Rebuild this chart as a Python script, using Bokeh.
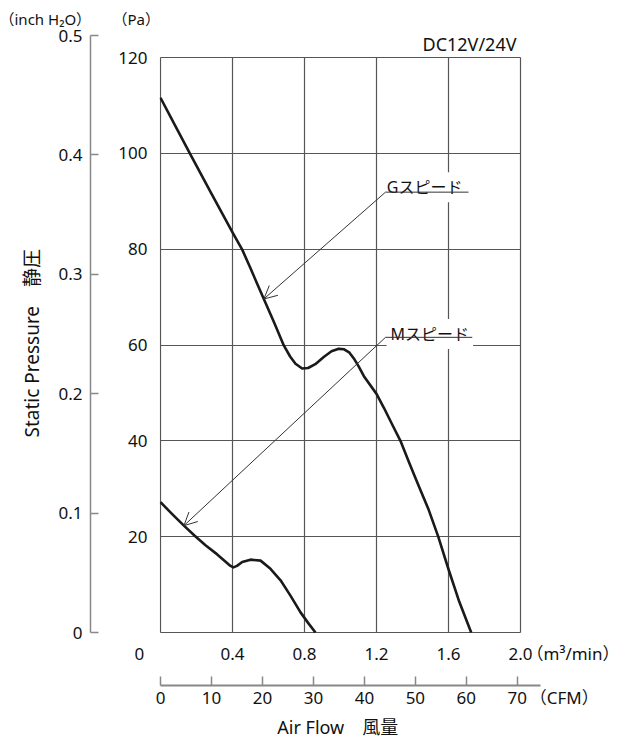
import math
from bokeh.plotting import figure
from bokeh.models import Range1d, LinearAxis, FixedTicker, Label, Arrow, OpenHead, Title
from bokeh.layouts import row
from bokeh.embed import file_html
from bokeh.resources import INLINE

# ---------------- data ----------------
g_flow = [0.0, 0.08, 0.163, 0.28, 0.4, 0.454, 0.5, 0.574, 0.63, 0.685, 0.72, 0.75, 0.787,
          0.82, 0.86, 0.907, 0.95, 0.99, 1.02, 1.05, 1.074, 1.10, 1.13, 1.2, 1.241, 1.29,
          1.333, 1.38, 1.43, 1.49, 1.543, 1.6, 1.66, 1.726]
g_pa = [111.6, 105.9, 100.0, 91.8, 83.5, 79.9, 76.0, 69.6, 64.8, 59.9, 57.6, 56.1, 55.1,
        55.2, 56.0, 57.5, 58.7, 59.2, 59.1, 58.4, 57.2, 55.6, 53.5, 49.8, 46.9, 43.2,
        40.0, 35.6, 31.0, 25.6, 20.0, 13.2, 6.4, 0.0]

m_flow = [0.0, 0.065, 0.13, 0.19, 0.25, 0.315, 0.389, 0.405, 0.425, 0.454, 0.5, 0.556,
          0.611, 0.667, 0.722, 0.778, 0.824, 0.861]
m_pa = [27.2, 24.7, 22.3, 20.2, 18.2, 16.3, 13.9, 13.6, 13.9, 14.7, 15.2, 15.0,
        13.3, 10.9, 7.7, 4.2, 1.8, 0.0]

flow_ticks = [0, 0.4, 0.8, 1.2, 1.6, 2.0]
flow_labels = ["0\u2003\u2003\u2002", "0.4", "0.8", "1.2", "1.6", "2.0"]
flow_unit = "（m³/min）"
flow_unit_pos = 2.311
pa_grid = [0, 20, 40, 60, 80, 100, 120]
pa_ticks = [20, 40, 60, 80, 100, 120]
pa_labels = ["20", "40", "60", "80", "100", "120"]
inch_ticks = [0, 0.1, 0.2, 0.3, 0.4, 0.5]
inch_labels = ["0", "0.1", "0.2", "0.3", "0.4", "0.5"]
cfm_ticks = [0, 10, 20, 30, 40, 50, 60, 70]
cfm_labels = ["0", "10", "20", "30", "40", "50", "60", "70"]
cfm_unit = "（CFM）"
cfm_unit_pos = 79.2

CFM_PER_M3MIN = 35.3147
FLOW_MAX = 2.0
PA_MAX = 120
INCH_MAX = 0.5
CFM_AXIS_END = 2.1111 * CFM_PER_M3MIN
PX_X = 1 / 180.0       # one pixel in m3/min
PX_Y = 120 / 575.0     # one pixel in Pa
FLOW_LO, FLOW_HI = -PX_X, 2.55
PA_LO, PA_HI = -PX_Y, PA_MAX + PX_Y

FONT = "'Noto Sans', 'Noto Sans CJK JP', sans-serif"
TXT = "#111111"
GRID = "#555555"
AX = "#888888"


def style_labels(ax, size="17px"):
    ax.major_label_text_font = FONT
    ax.major_label_text_font_size = size
    ax.major_label_text_color = TXT
    ax.minor_tick_line_color = None


# ---------------- left figure: inch H2O axis ----------------
fl = figure(width=100, height=742, x_range=Range1d(0, 1), y_range=Range1d(0, INCH_MAX),
            min_border_left=90, min_border_right=0, min_border_top=35, min_border_bottom=110,
            toolbar_location=None, output_backend="svg", x_axis_location=None,
            outline_line_color=None)
fl.title.visible = False
fl.grid.visible = False
ya = fl.yaxis[0]
ya.ticker = FixedTicker(ticks=inch_ticks)
ya.major_label_overrides = dict(zip(inch_ticks, inch_labels))
ya.major_tick_in = 8
ya.major_tick_out = 0
ya.axis_line_color = AX
ya.axis_line_width = 1.5
ya.major_tick_line_color = AX
ya.major_tick_line_width = 1.5
ya.major_label_standoff = 8
style_labels(ya)

fl.add_layout(Title(text="（inch H₂O）", align="left", offset=-91, vertical_align="middle",
                    standoff=11.6, text_font=FONT, text_font_size="15px",
                    text_font_style="normal", text_color=TXT), "above")
fl.add_layout(Title(text="Static Pressure\u3000静圧", align="left", offset=195,
                    vertical_align="middle", standoff=19, text_font=FONT,
                    text_font_size="19px", text_font_style="normal", text_color=TXT), "left")

# ---------------- right figure: main chart ----------------
p = figure(width=519, height=742, x_range=Range1d(FLOW_LO, FLOW_HI),
           y_range=Range1d(PA_LO, PA_HI),
           min_border_left=59, min_border_right=0, min_border_top=56, min_border_bottom=109,
           toolbar_location=None, output_backend="svg", outline_line_color=None)
p.title.visible = False
p.extra_x_ranges = {"cfm": Range1d(FLOW_LO * CFM_PER_M3MIN, FLOW_HI * CFM_PER_M3MIN)}

for f in (fl, p):
    if "frame_align" in f.properties():
        f.frame_align = False

# grid
p.xgrid.ticker = FixedTicker(ticks=flow_ticks)
p.ygrid.ticker = FixedTicker(ticks=pa_grid)
for g in (p.xgrid[0], p.ygrid[0]):
    g.grid_line_color = GRID
    g.grid_line_width = 1.2
    g.minor_grid_line_color = None
if "cross_bounds" in p.ygrid[0].properties():
    p.ygrid[0].cross_bounds = (0, FLOW_MAX)
    p.xgrid[0].cross_bounds = (0, PA_MAX)
else:
    p.ygrid[0].grid_line_color = None
    p.segment(x0=[0] * len(pa_grid), x1=[FLOW_MAX] * len(pa_grid), y0=pa_grid, y1=pa_grid,
              line_color=GRID, line_width=1.2)

# Pa axis
pa = p.yaxis[0]
pa.ticker = FixedTicker(ticks=pa_ticks)
pa.major_label_overrides = dict(zip(pa_ticks, pa_labels))
pa.axis_line_color = None
pa.major_tick_line_color = None
pa.major_tick_out = 0
pa.major_tick_in = 0
pa.major_label_standoff = 12
style_labels(pa)

# m3/min axis (labels only, unit as last label)
fa = p.xaxis[0]
fa.ticker = FixedTicker(ticks=flow_ticks + [flow_unit_pos])
fa.major_label_overrides = dict(zip(flow_ticks + [flow_unit_pos], flow_labels + [flow_unit]))
fa.axis_line_color = None
fa.major_tick_line_color = None
fa.major_tick_out = 0
fa.major_tick_in = 0
fa.major_label_standoff = 8
style_labels(fa)
fa.axis_label = "\u00a0"
fa.axis_label_text_font_size = "10px"
fa.axis_label_standoff = 4

# CFM axis line + ticks
cb = LinearAxis(x_range_name="cfm", ticker=FixedTicker(ticks=cfm_ticks), bounds=(0, CFM_AXIS_END))
cb.major_label_overrides = {t: "" for t in cfm_ticks}
cb.major_label_text_font_size = "0px"
cb.major_label_standoff = 0
cb.major_tick_in = 9
cb.major_tick_out = 0
cb.minor_tick_line_color = None
cb.axis_line_color = AX
cb.axis_line_width = 2
cb.major_tick_line_color = AX
cb.major_tick_line_width = 1.5
p.add_layout(cb, "below")

# CFM labels (unit as last label)
ca = LinearAxis(x_range_name="cfm", ticker=FixedTicker(ticks=cfm_ticks + [cfm_unit_pos]))
ca.major_label_overrides = dict(zip(cfm_ticks + [cfm_unit_pos], cfm_labels + [cfm_unit]))
ca.axis_line_color = None
ca.major_tick_line_color = None
ca.major_tick_out = 0
ca.major_tick_in = 0
ca.major_label_standoff = 0
style_labels(ca)
p.add_layout(ca, "below")

# axis title "Air Flow" (trailing ideographic spaces shift it to the left like the original)
ct = LinearAxis(x_range_name="cfm", ticker=FixedTicker(ticks=[35]), bounds=(30, 39.9))
ct.major_label_overrides = {35: ""}
ct.major_label_text_font_size = "0px"
ct.major_label_standoff = 0
ct.axis_line_color = None
ct.major_tick_line_color = None
ct.minor_tick_line_color = None
ct.major_tick_out = 0
ct.major_tick_in = 0
ct.axis_label = "Air Flow\u3000風量" + "\u3000" * 5 + "\u2002\u2005"
ct.axis_label_standoff = 3
ct.axis_label_text_font = FONT
ct.axis_label_text_font_size = "18px"
ct.axis_label_text_font_style = "normal"
ct.axis_label_text_color = TXT
p.add_layout(ct, "below")

# titles above
p.add_layout(Title(text="DC12V/24V", align="right", offset=103, vertical_align="middle",
                   standoff=0, text_font=FONT, text_font_size="18px",
                   text_font_style="normal", text_color=TXT), "above")
p.add_layout(Title(text="（Pa）", align="left", offset=-47, vertical_align="middle",
                   standoff=1.6, text_font=FONT, text_font_size="15px",
                   text_font_style="normal", text_color=TXT), "above")

# curves
p.line(g_flow, g_pa, line_color="#1a1a1a", line_width=2.6, line_join="round")
p.line(m_flow, m_pa, line_color="#1a1a1a", line_width=2.6, line_join="round")

# speed labels with leader arrows
for name, tx, ty, uy, ux1, tipx, tipy in [
    ("Gスピード", 1.235, 92.9, 91.9, 1.711, 0.574, 69.6),
    ("Mスピード", 1.256, 62.3, 61.6, 1.732, 0.13, 22.3),
]:
    p.add_layout(Label(x=tx, y=ty, text=name, text_font=FONT, text_font_size="16px",
                       text_color=TXT, text_align="left", text_baseline="alphabetic",
                       background_fill_color="white", padding=4))
    p.add_layout(Arrow(end=None, x_start=1.25, y_start=uy, x_end=ux1, y_end=uy,
                       line_color="#333333", line_width=1))
    p.add_layout(Arrow(end=OpenHead(size=13, line_color="#333333", line_width=1),
                       x_start=1.25, y_start=uy, x_end=tipx, y_end=tipy,
                       line_color="#333333", line_width=1))

layout = row(fl, p)
open("out.html", "w").write(file_html(layout, INLINE))
